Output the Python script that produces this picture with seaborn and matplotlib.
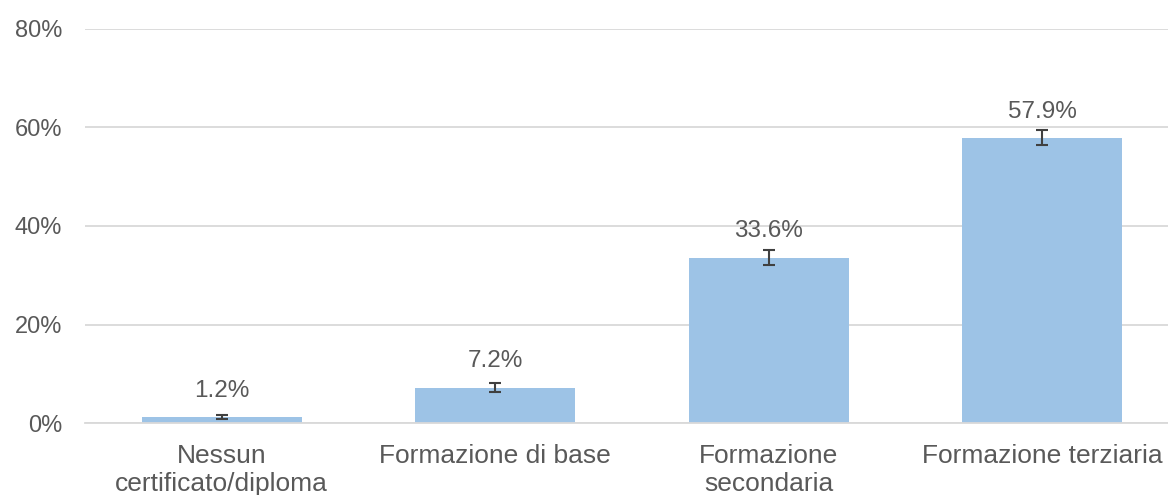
import matplotlib
matplotlib.use("Agg")
import matplotlib.pyplot as plt
import seaborn as sns
import pandas as pd

categories = ["Nessun\ncertificato/diploma", "Formazione di base",
              "Formazione\nsecondaria", "Formazione terziaria"]
values = [1.2, 7.2, 33.6, 57.9]
errors = [0.4, 0.9, 1.5, 1.5]
tick_values = [0, 20, 40, 60, 80]

sns.set_theme(style="white")
plt.rcParams['font.family'] = ['Liberation Sans', 'DejaVu Sans']

grey = "#595959"
df = pd.DataFrame({"cat": categories, "val": values})

fig = plt.figure(figsize=(11.68, 4.95), dpi=100)
ax = fig.add_axes([85 / 1168, (495 - 423) / 495, 1094 / 1168, 394 / 495])

sns.barplot(data=df, x="cat", y="val", color="#9DC3E6", saturation=1,
            width=0.585, linewidth=0, ax=ax, zorder=2)
ax.errorbar(range(len(values)), values, yerr=errors, fmt="none",
            ecolor="#404040", elinewidth=1.5, capsize=4, capthick=1.5, zorder=3)

for i, v in enumerate(values):
    ax.annotate(f"{v}%", (i, v), xytext=(0, 11), textcoords="offset points",
                ha="center", va="bottom", fontsize=17.5, color=grey)

ax.set_xlim(-0.5, 3.5)
ax.set_ylim(0, 80)
ax.set_yticks(tick_values)
ax.set_yticklabels([f"{t}%" for t in tick_values])
ax.yaxis.grid(True, color="#D9D9D9", linewidth=1.3, zorder=0)
ax.set_axisbelow(True)
for s in ["top", "right", "left"]:
    ax.spines[s].set_visible(False)
ax.spines["bottom"].set_color("#D9D9D9")
ax.spines["bottom"].set_linewidth(1.3)
ax.tick_params(axis="y", length=0, pad=16.5, labelsize=17, labelcolor=grey)
ax.tick_params(axis="x", length=0, pad=15, labelsize=19, labelcolor=grey)
for lbl in ax.get_xticklabels():
    lbl.set_linespacing(1.2)
ax.set_xlabel("")
ax.set_ylabel("")

fig.savefig("out.png", dpi=100)
